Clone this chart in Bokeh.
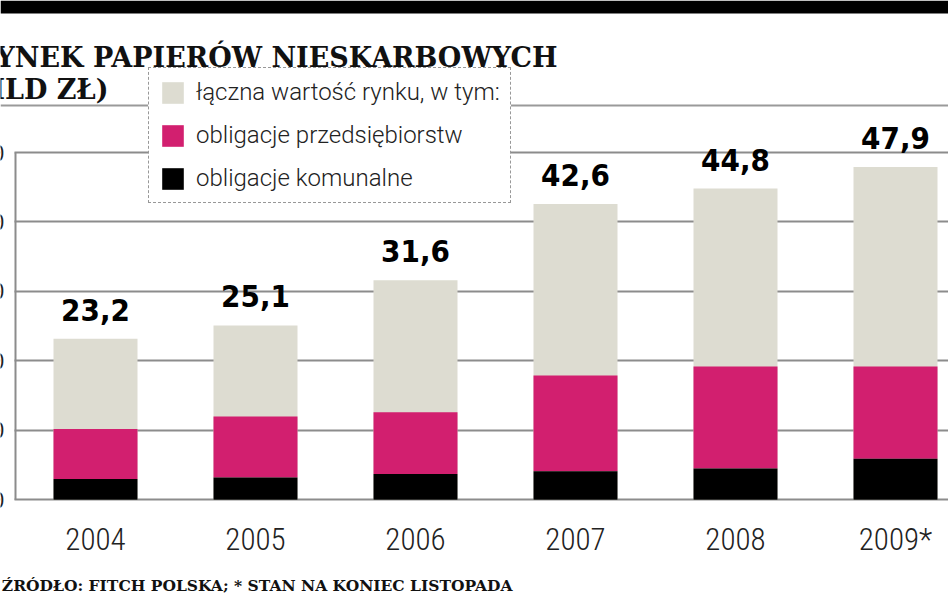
from bokeh.plotting import figure
from bokeh.models import (ColumnDataSource, Range1d, FixedTicker, LabelSet, Label,
                          BoxAnnotation, Legend, LegendItem)
from bokeh.embed import file_html
from bokeh.resources import INLINE
from bokeh.core.properties import value

# ---- data (mld zł) ----
years = ["2004", "2005", "2006", "2007", "2008", "2009*"]
total = [23.2, 25.1, 31.6, 42.6, 44.8, 47.9]          # łączna wartość rynku
corporate = [7.2, 8.8, 8.9, 13.8, 14.7, 13.3]          # obligacje przedsiębiorstw
municipal = [3.0, 3.2, 3.7, 4.1, 4.5, 5.9]             # obligacje komunalne
y_ticks = [0, 10, 20, 30, 40, 50]

GRAY = "#dddcd1"
MAGENTA = "#d21f6f"
GRID = "#8c8c8c"
CW, CH = 948, 593

x = list(range(len(years)))
stack_top = [m + c for m, c in zip(municipal, corporate)]
labels = [f"{v:.1f}".replace(".", ",") for v in total]
src = ColumnDataSource(dict(x=x, total=total, mun=municipal, top=stack_top,
                            lab=labels, year=years))
tick_src = ColumnDataSource(dict(y=y_ticks, t=[str(t) for t in y_ticks]))

# scale: one category = 160 px, first centre at 95 px; 1 unit = 6.946 px, zero at 499.3 px
p = figure(width=CW, height=CH, output_backend="svg", toolbar_location=None,
           x_range=Range1d(-95 / 160, (CW - 95) / 160),
           y_range=Range1d(-(CH - 499.3) / 6.946, 499.3 / 6.946),
           x_axis_location=None, y_axis_location=None,
           min_border=0, outline_line_color=None,
           background_fill_color="white", border_fill_color="white")

p.xgrid.visible = False
p.ygrid.ticker = FixedTicker(ticks=y_ticks)
p.ygrid.grid_line_color = GRID
p.ygrid.grid_line_width = 2

# bars
W = 0.525
r_tot = p.vbar(x="x", top="total", bottom=0, width=W, source=src, fill_color=GRAY, line_color=None)
r_cor = p.vbar(x="x", top="top", bottom="mun", width=W, source=src, fill_color=MAGENTA, line_color=None)
r_mun = p.vbar(x="x", top="mun", bottom=0, width=W, source=src, fill_color="black", line_color=None)

# white margin left of the axis (grid starts at the axis)
p.add_layout(BoxAnnotation(left=0, right=14, bottom=0, top=CH,
                           left_units="screen", right_units="screen",
                           bottom_units="screen", top_units="screen",
                           fill_color="white", fill_alpha=1, line_color=None))
# y axis line
p.add_layout(BoxAnnotation(left=14, right=16, bottom=y_ticks[0], top=y_ticks[-1],
                           left_units="screen", right_units="screen",
                           fill_color=GRID, fill_alpha=1, line_color=None))
# y tick labels (mostly outside the page, as in the original)
p.add_layout(LabelSet(x=4, y="y", text="t", source=tick_src, x_units="screen",
                      text_align="right", text_baseline="middle",
                      text_font=value("DejaVu Sans Condensed"), text_font_size="21px",
                      text_color="#222222"))

# year labels under the bars
p.add_layout(LabelSet(x="x", y=0, text="year", source=src, y_offset=-50,
                      text_align="center", text_baseline="alphabetic",
                      text_font=value("Roboto Condensed Light, Roboto Condensed, Roboto Light, Roboto"),
                      text_font_size="31px", text_color="#222222"))

# value labels
p.add_layout(LabelSet(x="x", y="total", text="lab", source=src, y_offset=18,
                      text_align="center", text_baseline="alphabetic",
                      text_font=value("DejaVu Sans Condensed"), text_font_style="bold",
                      text_font_size="31px", text_color="black"))

# black band on top and header rule
p.add_layout(BoxAnnotation(left=0, right=CW, bottom=CH - 13, top=CH,
                           left_units="screen", right_units="screen",
                           bottom_units="screen", top_units="screen",
                           fill_color="black", fill_alpha=1, line_color=None))
p.add_layout(BoxAnnotation(left=0, right=CW, bottom=CH - 106, top=CH - 104,
                           left_units="screen", right_units="screen",
                           bottom_units="screen", top_units="screen",
                           fill_color="#9a9a9a", fill_alpha=1, line_color=None))

# title texts
p.add_layout(Label(x=557, y=CH - 57, x_units="screen", y_units="screen",
                   text="RYNEK PAPIERÓW NIESKARBOWYCH", text_align="right",
                   text_baseline="alphabetic", text_font="DejaVu Serif",
                   text_font_style="bold", text_font_size="27px", text_color="#111111"))
p.add_layout(Label(x=108, y=CH - 89, x_units="screen", y_units="screen",
                   text="(MLD ZŁ)", text_align="right",
                   text_baseline="alphabetic", text_font="DejaVu Serif",
                   text_font_style="bold", text_font_size="27px", text_color="#111111"))
p.add_layout(Label(x=512, y=CH - 585, x_units="screen", y_units="screen",
                   text="ŹRÓDŁO: FITCH POLSKA; * STAN NA KONIEC LISTOPADA", text_align="right",
                   text_baseline="alphabetic", text_font="DejaVu Serif",
                   text_font_style="bold", text_font_size="15.5px", text_color="#111111"))

# legend
legend = Legend(items=[
    LegendItem(label="łączna wartość rynku, w tym:", renderers=[r_tot]),
    LegendItem(label="obligacje przedsiębiorstw", renderers=[r_cor]),
    LegendItem(label="obligacje komunalne", renderers=[r_mun]),
], location=(148, CH - 203), margin=0, padding=10, spacing=15,
    glyph_width=27, glyph_height=27, label_height=27, label_standoff=10,
    label_text_font="Roboto Light, Roboto",
    label_text_font_size="24px",
    label_text_color="#222222", label_text_baseline="middle",
    border_line_color="#333333", border_line_dash="4 3", border_line_width=1.5,
    background_fill_color="white", background_fill_alpha=1)
p.add_layout(legend)

open("out.html", "w").write(file_html(p, INLINE))
